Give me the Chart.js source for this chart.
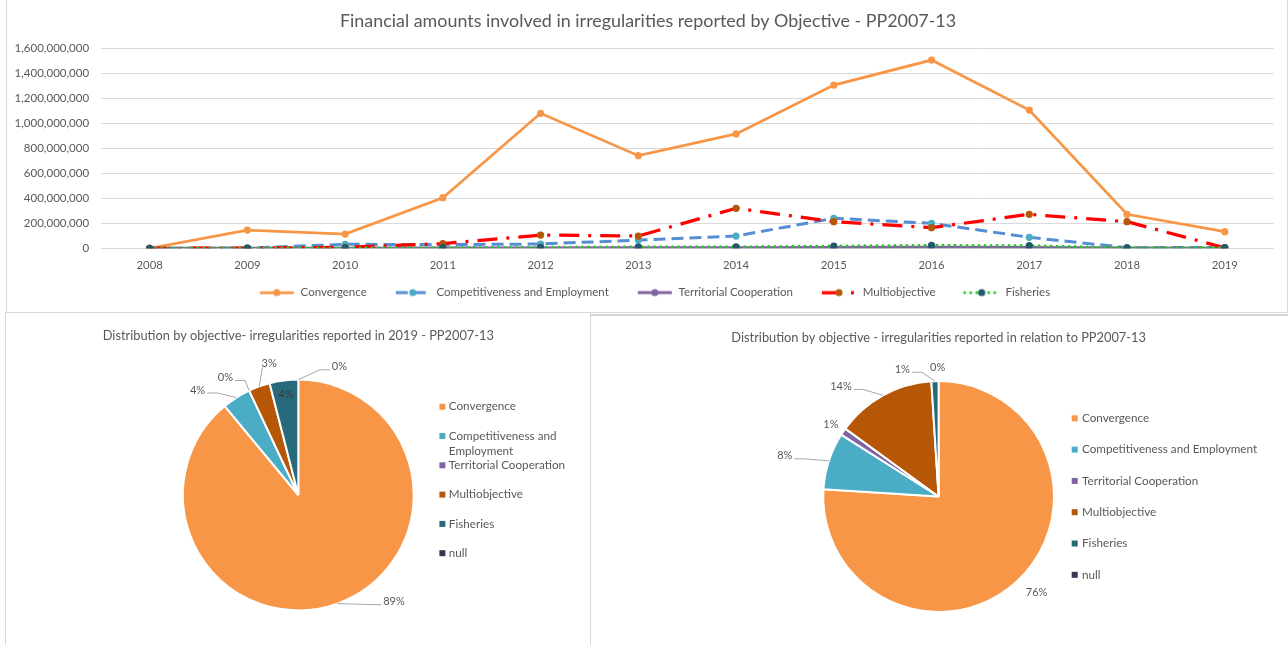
<!DOCTYPE html>
<html>
<head>
<meta charset="utf-8">
<title>Irregularities by Objective - PP2007-13</title>
<script src="https://cdn.jsdelivr.net/npm/chart.js@4.4.1/dist/chart.umd.min.js"></script>
<style>
  html, body { margin: 0; padding: 0; background: #fff; }
  body { position: relative; width: 1288px; height: 645px; overflow: hidden; font-family: Lato, sans-serif; }
  .panel { position: absolute; box-sizing: border-box; border: 1px solid #d9d9d9; background: #fff; }
  #panel-top { left: 6px; top: -1px; width: 1282px; height: 314px; }
  #panel-left { left: 5px; top: 312px; width: 586px; height: 345px; }
  #panel-right { left: 590px; top: 314px; width: 699px; height: 345px; border-top: 2px solid #d4d4d4; }
  .wrap { position: absolute; }
  #wrap-line { left: 10px; top: 0px; width: 1276px; height: 311px; }
  #wrap-pie2019 { left: 6px; top: 316px; width: 583px; height: 329px; }
  #wrap-pieAll { left: 591px; top: 317px; width: 696px; height: 328px; }
</style>
</head>
<body>
<div class="panel" id="panel-top"></div>
<div class="panel" id="panel-left"></div>
<div class="panel" id="panel-right"></div>
<div class="wrap" id="wrap-line"><canvas id="lineChart"></canvas></div>
<div class="wrap" id="wrap-pie2019"><canvas id="pie2019"></canvas></div>
<div class="wrap" id="wrap-pieAll"><canvas id="pieAll"></canvas></div>

<script>
// ---- data ---------------------------------------------------------------
const years = ['2008', '2009', '2010', '2011', '2012', '2013', '2014', '2015', '2016', '2017', '2018', '2019'];

// financial amounts (EUR) per reporting year
const convergence     = [0, 146e6, 114e6, 405e6, 1080e6, 741e6, 915e6, 1306e6, 1506e6, 1106e6, 272e6, 133e6];
const competitiveness = [0, 2e6, 32e6, 30e6, 34e6, 66e6, 98e6, 240e6, 200e6, 88e6, 5e6, 6e6];
const territorial     = [0, 0, 1e6, 2e6, 3e6, 4e6, 5e6, 6e6, 8e6, 6e6, 2e6, 1e6];
const multiobjective  = [0, 1e6, 8e6, 37e6, 106e6, 98e6, 320e6, 213e6, 165e6, 272e6, 213e6, 4.5e6];
const fisheries       = [0, 1e6, 3e6, 5e6, 8e6, 12e6, 12e6, 18e6, 24e6, 22e6, 4e6, 6e6];

const yTicks = [0, 200e6, 400e6, 600e6, 800e6, 1000e6, 1200e6, 1400e6, 1600e6];

// pie shares (%)
const objectives = ['Convergence', 'Competitiveness and Employment', 'Territorial Cooperation', 'Multiobjective', 'Fisheries', 'null'];
const share2019  = [89, 4, 0, 3, 4, 0];
const shareTotal = [76, 8, 1, 14, 1, 0];

// ---- styles ---------------------------------------------------------------
const TEXT = '#595959';
const FONT = 'Lato';
Chart.defaults.font.family = FONT;
Chart.defaults.color = TEXT;

const lineStyles = [
  { line: '#F79646', marker: '#F79646', width: 2.75, dash: [], cap: 'butt' },
  { line: '#558ED5', marker: '#4BACC6', width: 3, dash: [12, 6], cap: 'butt' },
  { line: '#8064A2', marker: '#8064A2', width: 3, dash: [], cap: 'butt' },
  { line: '#FF0000', marker: '#B65708', width: 3.25, dash: [20, 9, 3, 9], cap: 'butt' },
  { line: '#2BC42B', marker: '#215968', width: 3, dash: [0.01, 6], cap: 'round' }
];
const sliceColors = ['#F79646', '#4BACC6', '#8064A2', '#B65708', '#276A7C', '#3F3151'];

// legend symbol: blank lead-in (item spacing) followed by a line+marker swatch
const SWATCH_LEAD = 13;
function legendSwatch(st) {
  const c = document.createElement('canvas');
  c.width = 36 + SWATCH_LEAD; c.height = 12;
  const g = c.getContext('2d');
  g.strokeStyle = st.line;
  g.lineWidth = st.width;
  g.lineCap = st.cap;
  g.setLineDash(st.dash);
  g.beginPath(); g.moveTo(SWATCH_LEAD + 1, 6); g.lineTo(SWATCH_LEAD + 35, 6); g.stroke();
  g.setLineDash([]);
  g.fillStyle = st.marker;
  g.beginPath(); g.arc(SWATCH_LEAD + 18, 6, 3.6, 0, Math.PI * 2); g.fill();
  return c;
}

// ---- line chart -------------------------------------------------------------
const lineSeries = [
  ['Convergence', convergence],
  ['Competitiveness and Employment', competitiveness],
  ['Territorial Cooperation', territorial],
  ['Multiobjective', multiobjective],
  ['Fisheries', fisheries]
];
const swatches = lineStyles.map(legendSwatch);

new Chart(document.getElementById('lineChart'), {
  type: 'line',
  data: {
    labels: years,
    datasets: lineSeries.map(([name, values], i) => ({
      label: name,
      data: values,
      yAxisID: 'y',
      borderColor: lineStyles[i].line,
      borderWidth: lineStyles[i].width,
      borderDash: lineStyles[i].dash,
      borderCapStyle: lineStyles[i].cap,
      pointBackgroundColor: lineStyles[i].marker,
      pointBorderColor: lineStyles[i].marker,
      pointBorderWidth: 0,
      pointRadius: 3.6,
      tension: 0,
      fill: false,
      order: lineSeries.length - i
    }))
  },
  options: {
    responsive: true,
    maintainAspectRatio: false,
    animation: false,
    layout: { padding: { left: 0, right: 0, top: 0, bottom: 2.64 } },
    plugins: {
      title: {
        display: true,
        text: 'Financial amounts involved in irregularities reported by Objective - PP2007-13',
        color: TEXT,
        font: { family: FONT, size: 17.9, weight: 'normal' },
        padding: { top: 10.26, bottom: 16.56 }
      },
      legend: {
        position: 'bottom',
        labels: {
          usePointStyle: true,
          pointStyleWidth: 36 + SWATCH_LEAD,
          padding: 15,
          color: TEXT,
          font: { family: FONT, size: 11.5 },
          generateLabels: (chart) => chart.data.datasets.map((ds, i) => ({
            text: ds.label,
            pointStyle: swatches[i],
            fillStyle: 'rgba(0,0,0,0)',
            strokeStyle: 'rgba(0,0,0,0)',
            lineWidth: 0,
            fontColor: TEXT,
            hidden: !chart.isDatasetVisible(i),
            datasetIndex: i
          }))
        }
      },
      tooltip: { enabled: false }
    },
    scales: {
      x: {
        offset: true,
        grid: { display: false, drawTicks: false },
        border: { display: false },
        ticks: { color: TEXT, font: { family: FONT, size: 11.3 }, padding: 10 },
        afterFit: (scale) => { scale.height = 23.56; }
      },
      y: {
        position: 'left',
        min: 0,
        max: yTicks[yTicks.length - 1],
        afterBuildTicks: (scale) => { scale.ticks = yTicks.map(v => ({ value: v })); },
        grid: { color: '#d9d9d9', lineWidth: 1, drawTicks: false },
        border: { display: false },
        ticks: {
          color: TEXT,
          font: { family: FONT, size: 11.5 },
          padding: 11.7,
          callback: (v) => Number(v).toLocaleString('en-US')
        },
        afterFit: (scale) => { scale.width = 90.8; }
      },
      // empty right-hand margin of the plot
      yMargin: {
        type: 'linear',
        position: 'right',
        grid: { display: false, drawTicks: false },
        border: { display: false },
        ticks: { display: false },
        afterFit: (scale) => { scale.width = 12.4; }
      }
    }
  }
});

// ---- pie helpers -----------------------------------------------------------
// percentage labels with leader lines; placement is relative to each slice's mid-angle
const pieLabels = {
  id: 'pieLabels',
  afterDatasetsDraw(chart, args, opts) {
    const meta = chart.getDatasetMeta(0);
    const values = chart.data.datasets[0].data;
    const ctx = chart.ctx;
    ctx.save();
    ctx.font = `${opts.size}px ${FONT}`;
    ctx.textAlign = 'center';
    ctx.textBaseline = 'middle';
    meta.data.forEach((arc, i) => {
      const p = opts.place[i];
      const { x, y, startAngle, endAngle, outerRadius } = arc.getProps(['x', 'y', 'startAngle', 'endAngle', 'outerRadius'], true);
      const mid = (startAngle + endAngle) / 2;
      const a = mid + p.shift * Math.PI / 180;
      const lx = x + Math.cos(a) * outerRadius * p.dist;
      const ly = y + Math.sin(a) * outerRadius * p.dist;
      const text = values[i] + '%';
      const w = ctx.measureText(text).width;
      if (p.leader) {
        const ex = x + Math.cos(mid) * outerRadius;
        const ey = y + Math.sin(mid) * outerRadius;
        ctx.strokeStyle = '#a6a6a6';
        ctx.lineWidth = 1;
        ctx.beginPath();
        ctx.moveTo(ex, ey);
        if (p.leader === 'v') {
          ctx.lineTo(lx - w / 2 + 1, ly + 4);
        } else {
          const toLeft = lx < ex;
          const endX = toLeft ? lx + w / 2 + 2 : lx - w / 2 - 2;
          const endY = ly + 3;
          const elbowX = endX + (toLeft ? 1 : -1) * Math.min(Math.abs(ex - endX), 10);
          ctx.lineTo(elbowX, endY);
          ctx.lineTo(endX, endY);
        }
        ctx.stroke();
      }
      ctx.fillStyle = p.color || TEXT;
      ctx.fillText(text, lx, ly);
    });
    ctx.restore();
  }
};

// legend column to the right of the pie, words wrapped to a maximum width
const sideLegend = {
  id: 'sideLegend',
  afterDraw(chart, args, opts) {
    const ctx = chart.ctx;
    const arc = chart.getDatasetMeta(0).data[0];
    const cx = arc.x, cy = arc.y;
    const colors = chart.data.datasets[0].backgroundColor;
    ctx.save();
    ctx.font = `${opts.size}px ${FONT}`;
    ctx.textAlign = 'left';
    ctx.textBaseline = 'middle';
    chart.data.labels.forEach((label, i) => {
      const yy = cy + opts.top + i * opts.step;
      ctx.fillStyle = colors[i];
      ctx.fillRect(cx + opts.box, yy - 3, 6, 6);
      const lines = [];
      let cur = '';
      label.split(' ').forEach((word) => {
        const trial = cur ? cur + ' ' + word : word;
        if (cur && ctx.measureText(trial).width > opts.maxWidth) { lines.push(cur); cur = word; }
        else { cur = trial; }
      });
      lines.push(cur);
      ctx.fillStyle = TEXT;
      lines.forEach((ln, k) => ctx.fillText(ln, cx + opts.text, yy + k * opts.lineGap));
    });
    ctx.restore();
  }
};

function pieChart(canvasId, values, title, pad, place, legend) {
  return new Chart(document.getElementById(canvasId), {
    type: 'pie',
    data: {
      labels: objectives,
      datasets: [{
        data: values,
        backgroundColor: sliceColors,
        borderColor: '#ffffff',
        borderWidth: 2,
        radius: 115.4
      }]
    },
    options: {
      responsive: true,
      maintainAspectRatio: false,
      animation: false,
      layout: { padding: { left: pad.left, right: pad.right, top: 0, bottom: pad.bottom } },
      plugins: {
        title: {
          display: true,
          text: title,
          color: TEXT,
          font: { family: FONT, size: 12.8, weight: 'normal' },
          padding: { top: pad.titleTop, bottom: 9.34 }
        },
        legend: { display: false },
        tooltip: { enabled: false },
        pieLabels: { size: 11, place: place },
        sideLegend: legend
      }
    },
    plugins: [pieLabels, sideLegend]
  });
}

pieChart('pie2019', share2019,
  'Distribution by objective- irregularities reported in 2019 - PP2007-13',
  { left: 2, right: 0.4, bottom: 8, titleTop: 12.32 },
  [
    { shift: -22.1, dist: 1.241, leader: 'h' },
    { shift: -11.4, dist: 1.261, leader: 'h' },
    { shift: -6.6, dist: 1.198, leader: 'h' },
    { shift: 7.3, dist: 1.169, leader: 'v' },
    { shift: 0.2, dist: 0.878, color: '#3a3a3a' },
    { shift: 17.8, dist: 1.167, leader: 'h' }
  ],
  { size: 11.7, top: -88.3, step: 29.3, box: 141.1, text: 150.5, maxWidth: 130, lineGap: 15 }
);

pieChart('pieAll', shareTotal,
  'Distribution by objective - irregularities reported in relation to PP2007-13',
  { left: 0, right: 0.8, bottom: 6.7, titleTop: 13.02 },
  [
    { shift: -2.3, dist: 1.19 },
    { shift: -3.2, dist: 1.379, leader: 'h' },
    { shift: -0.6, dist: 1.121 },
    { shift: -12.8, dist: 1.274, leader: 'h' },
    { shift: -14.1, dist: 1.147, leader: 'h' },
    { shift: -0.4, dist: 1.117 }
  ],
  { size: 11.7, top: -78.2, step: 31.3, box: 133.1, text: 143.4, maxWidth: 400, lineGap: 15 }
);
</script>
</body>
</html>
